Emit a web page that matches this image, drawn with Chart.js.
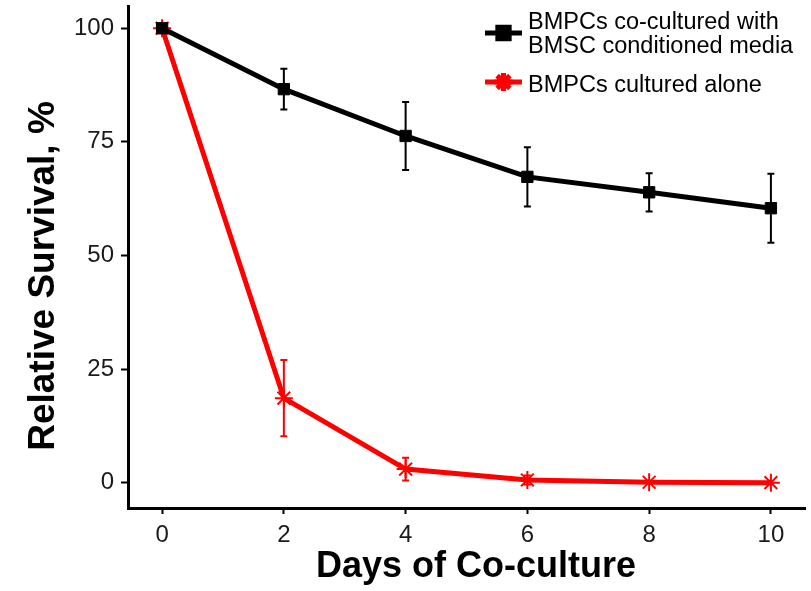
<!DOCTYPE html>
<html>
<head>
<meta charset="utf-8">
<title>Relative survival of BMPCs</title>
<script src="https://cdn.jsdelivr.net/npm/chart.js@4.4.1/dist/chart.umd.min.js"></script>
<style>
  html, body { margin: 0; padding: 0; background: #fff; }
  #wrap { width: 811px; height: 591px; position: relative; }
</style>
</head>
<body>
<div id="wrap"><canvas id="c" width="811" height="591"></canvas></div>
<script>
// Days of co-culture
const days = [0, 2, 4, 6, 8, 10];

// Relative survival (%) and standard error of each group
const conditionedMedia = [100, 86.6, 76.3, 67.3, 63.9, 60.4];
const conditionedMediaErr = [0, 4.5, 7.5, 6.5, 4.2, 7.6];
const culturedAlone = [100, 18.6, 3.0, 0.6, 0.1, 0.0];
const culturedAloneErr = [0, 8.4, 2.5, 1.0, 0, 0];

// Axis ticks and labels
const xTicks = [0, 2, 4, 6, 8, 10];
const yTicks = [0, 25, 50, 75, 100];
const seriesNames = [["BMPCs co-cultured with", "BMSC conditioned media"], ["BMPCs cultured alone"]];
const xTitle = "Days of Co-culture";
const yTitle = "Relative Survival, %";

const FONT = "'Liberation Sans', Arial, sans-serif";

function toPoints(vals) {
  return days.map((d, i) => ({ x: d, y: vals[i] }));
}

// Vertical error bars with caps, drawn beneath the lines
const errorBars = {
  id: 'errorBars',
  beforeDatasetsDraw(chart) {
    const ctx = chart.ctx;
    const ys = chart.scales.y;
    const cap = 3.5;
    // draw the bottom-most dataset first
    for (let di = chart.data.datasets.length - 1; di >= 0; di--) {
      const ds = chart.data.datasets[di];
      const meta = chart.getDatasetMeta(di);
      ctx.save();
      ctx.strokeStyle = ds.borderColor;
      ctx.lineWidth = 2;
      meta.data.forEach((pt, i) => {
        const e = ds.errors[i];
        if (!e) return;
        const v = ds.data[i].y;
        const top = ys.getPixelForValue(v + e);
        const bot = ys.getPixelForValue(v - e);
        ctx.beginPath();
        ctx.moveTo(pt.x, top); ctx.lineTo(pt.x, bot);
        ctx.moveTo(pt.x - cap, top); ctx.lineTo(pt.x + cap, top);
        ctx.moveTo(pt.x - cap, bot); ctx.lineTo(pt.x + cap, bot);
        ctx.stroke();
      });
      ctx.restore();
    }
  }
};

// Axis titles and the legend in the upper right corner
const annotations = {
  id: 'annotations',
  afterDraw(chart) {
    const ctx = chart.ctx;
    ctx.save();
    ctx.fillStyle = '#000';

    // x axis title
    ctx.font = "bold 36px " + FONT;
    ctx.textAlign = 'center';
    ctx.textBaseline = 'alphabetic';
    ctx.fillText(xTitle, 476, 577);

    // y axis title
    ctx.save();
    ctx.font = "bold 37px " + FONT;
    ctx.translate(54, 276);
    ctx.rotate(-Math.PI / 2);
    ctx.fillText(yTitle, 0, 0);
    ctx.restore();

    // legend
    const keyX0 = 485, keyX1 = 522, keyMid = 503.5, textX = 528;
    ctx.font = "23.5px " + FONT;
    ctx.textAlign = 'left';
    const entries = [
      { ds: chart.data.datasets[0], keyY: 33, lines: [28.5, 53] },
      { ds: chart.data.datasets[1], keyY: 82, lines: [91.5] }
    ];
    entries.forEach((en, k) => {
      const ds = en.ds;
      ctx.strokeStyle = ds.borderColor;
      ctx.lineWidth = ds.borderWidth;
      ctx.beginPath();
      ctx.moveTo(keyX0, en.keyY); ctx.lineTo(keyX1, en.keyY);
      ctx.stroke();
      Chart.helpers.drawPoint(ctx, {
        pointStyle: ds.pointStyle,
        radius: ds.pointRadius,
        borderWidth: ds.pointBorderWidth,
        rotation: 0
      }, keyMid, en.keyY);
      if (ds.pointStyle === 'rect') {
        ctx.fillStyle = ds.pointBackgroundColor;
        const s = ds.pointRadius * Math.SQRT1_2;
        ctx.fillRect(keyMid - s, en.keyY - s, 2 * s, 2 * s);
      }
      ctx.fillStyle = '#000';
      seriesNames[k].forEach((t, j) => ctx.fillText(t, textX, en.lines[j]));
    });
    ctx.restore();
  }
};

new Chart(document.getElementById('c'), {
  type: 'line',
  data: {
    datasets: [
      {
        label: seriesNames[0].join(' '),
        data: toPoints(conditionedMedia),
        errors: conditionedMediaErr,
        borderColor: '#000000',
        backgroundColor: '#000000',
        borderWidth: 5,
        pointStyle: 'rect',
        pointRadius: 8,
        pointBorderWidth: 1,
        pointBackgroundColor: '#000000',
        pointBorderColor: '#000000',
        tension: 0,
        clip: false
      },
      {
        label: seriesNames[1].join(' '),
        data: toPoints(culturedAlone),
        errors: culturedAloneErr,
        borderColor: '#ff0000',
        backgroundColor: '#ff0000',
        borderWidth: 5,
        pointStyle: 'star',
        pointRadius: 9,
        pointBorderWidth: 2,
        pointBackgroundColor: '#ff0000',
        pointBorderColor: '#ff0000',
        tension: 0,
        clip: false
      }
    ]
  },
  options: {
    responsive: false,
    animation: false,
    devicePixelRatio: 1,
    layout: { autoPadding: false, padding: { top: 6, right: 6, left: 0, bottom: 0 } },
    plugins: { legend: { display: false }, tooltip: { enabled: false } },
    scales: {
      x: {
        type: 'linear',
        min: -0.56,
        max: 10.56,
        afterBuildTicks: (s) => { s.ticks = xTicks.map(v => ({ value: v })); },
        afterFit: (s) => { s.height = 83; s.paddingLeft = 0; s.paddingRight = 0; },
        grid: { drawOnChartArea: false, drawTicks: true, tickLength: 6, tickWidth: 2, tickColor: '#000' },
        border: { display: true, color: '#000', width: 3 },
        ticks: { color: '#1a1a1a', font: { family: FONT, size: 24 }, padding: 7, maxRotation: 0 }
      },
      y: {
        type: 'linear',
        min: -5.57,
        max: 104.9,
        afterBuildTicks: (s) => { s.ticks = yTicks.map(v => ({ value: v })); },
        afterFit: (s) => { s.width = 128; s.paddingTop = 0; s.paddingBottom = 0; },
        grid: { drawOnChartArea: false, drawTicks: true, tickLength: 7, tickWidth: 2, tickColor: '#000' },
        border: { display: true, color: '#000', width: 3 },
        ticks: { color: '#1a1a1a', font: { family: FONT, size: 24 }, padding: 7 }
      }
    }
  },
  plugins: [errorBars, annotations]
});
</script>
</body>
</html>
